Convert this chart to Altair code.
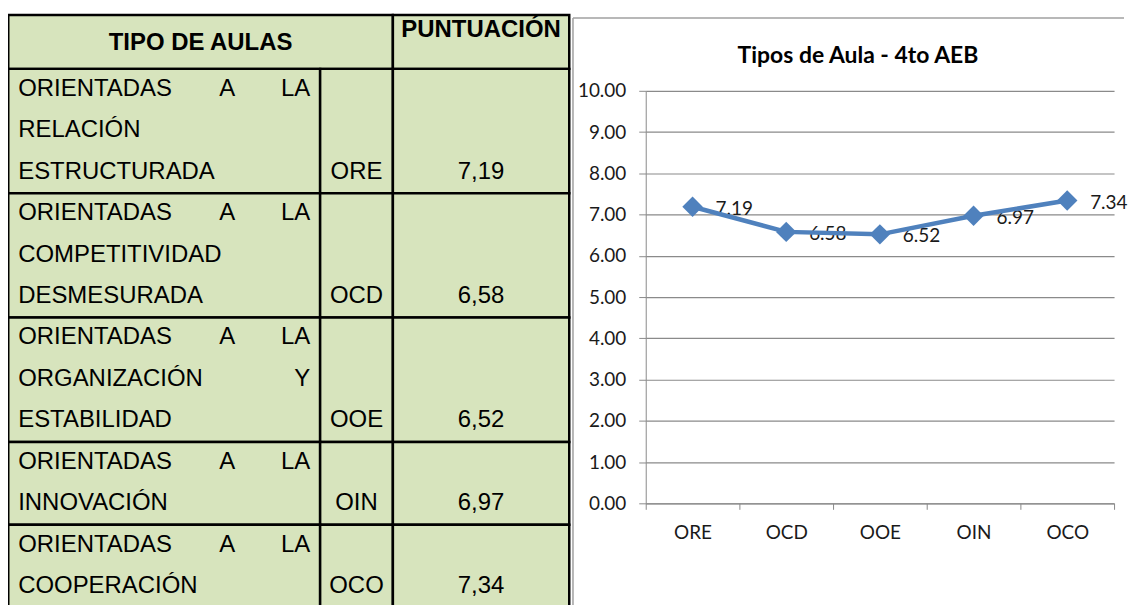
import altair as alt
import pandas as pd

# ---------------- data ----------------
codes = ["ORE", "OCD", "OOE", "OIN", "OCO"]
scores = [7.19, 6.58, 6.52, 6.97, 7.34]
score_text = ["7,19", "6,58", "6,52", "6,97", "7,34"]
type_lines = [
    ["ORIENTADAS A LA", "RELACIÓN", "ESTRUCTURADA"],
    ["ORIENTADAS A LA", "COMPETITIVIDAD", "DESMESURADA"],
    ["ORIENTADAS A LA", "ORGANIZACIÓN Y", "ESTABILIDAD"],
    ["ORIENTADAS A LA", "INNOVACIÓN"],
    ["ORIENTADAS A LA", "COOPERACIÓN"],
]
header_left = "TIPO DE AULAS"
header_right = "PUNTUACIÓN"
chart_title = "Tipos de Aula - 4to AEB"

# ---------------- table layout (pixels) ----------------
TW = 563
COL_EDGES = [0, 313, 386, 563]
HEADER_H = 54
LINE_H = 41.6
PAD = 1.25
TOP_OFF = -76          # table top relative to the chart's plot top
FONT_BODY = 24
FONT_HEAD = 24
GREEN = "#D7E4BD"
GRAY = "#8A8A8A"
BLUE = "#4F81BD"

ARIAL = {"A": 667, "B": 667, "C": 722, "D": 722, "E": 667, "F": 611, "G": 778,
         "H": 722, "I": 278, "J": 500, "K": 667, "L": 556, "M": 833, "N": 722,
         "O": 778, "Ó": 778, "P": 667, "Q": 778, "R": 722, "S": 667, "T": 611,
         "U": 722, "V": 667, "W": 944, "X": 667, "Y": 667, "Z": 611, " ": 278}


def text_w(s, size):
    return sum(ARIAL.get(c, 667) for c in s) / 1000 * size


cells = [dict(x=0, x2=COL_EDGES[2], y=0, y2=HEADER_H),
         dict(x=COL_EDGES[2], x2=COL_EDGES[3], y=0, y2=HEADER_H)]
heads = [dict(text=header_left, x=COL_EDGES[2] / 2, y=35),
         dict(text=header_right, x=(COL_EDGES[2] + COL_EDGES[3]) / 2, y=22)]
words = []
top = HEADER_H
L = COL_EDGES[0] + 10
R = COL_EDGES[1] - 10
for lines, code, val in zip(type_lines, codes, score_text):
    h = len(lines) * LINE_H
    for c in range(3):
        cells.append(dict(x=COL_EDGES[c], x2=COL_EDGES[c + 1], y=top, y2=top + h))
    for i, line in enumerate(lines):
        base = top + 27 + i * LINE_H
        ws = line.split()
        if i < len(lines) - 1 and len(ws) > 1:
            widths = [text_w(w, FONT_BODY) for w in ws]
            gap = (R - L - sum(widths)) / (len(ws) - 1)
            pos = L
            for k, (w, wd) in enumerate(zip(ws, widths)):
                if k == 0:
                    words.append(dict(text=w, x=L, y=base, align="left"))
                elif k == len(ws) - 1:
                    words.append(dict(text=w, x=R, y=base, align="right"))
                else:
                    words.append(dict(text=w, x=pos + wd / 2, y=base, align="center"))
                pos += wd + gap
        else:
            words.append(dict(text=line, x=L, y=base, align="left"))
    last = top + 27 + (len(lines) - 1) * LINE_H
    words.append(dict(text=code, x=(COL_EDGES[1] + COL_EDGES[2]) / 2, y=last, align="center"))
    words.append(dict(text=val, x=(COL_EDGES[2] + COL_EDGES[3]) / 2, y=last, align="center"))
    top += h
TOTAL_H = top

cells_df = pd.DataFrame(cells)
words_df = pd.DataFrame(words)
heads_df = pd.DataFrame(heads)

xs = alt.Scale(domain=[-PAD, TW + PAD], nice=False, zero=False)
ys = alt.Scale(domain=[0, TOTAL_H], range=[TOP_OFF, TOP_OFF + TOTAL_H],
               nice=False, zero=False)

rects = alt.Chart(cells_df).mark_rect(
    fill=GREEN, stroke="black", strokeWidth=2.5
).encode(
    x=alt.X("x:Q", scale=xs, axis=None), x2="x2:Q",
    y=alt.Y("y:Q", scale=ys, axis=None), y2="y2:Q",
)

text_layers = []
for a in ["left", "center", "right"]:
    text_layers.append(
        alt.Chart(words_df).transform_filter(alt.datum.align == a).mark_text(
            align=a, baseline="alphabetic", font="Liberation Sans",
            fontSize=FONT_BODY, color="black"
        ).encode(
            x=alt.X("x:Q", scale=xs, axis=None),
            y=alt.Y("y:Q", scale=ys, axis=None),
            text="text:N",
        )
    )

head_text = alt.Chart(heads_df).mark_text(
    align="center", baseline="alphabetic", font="Liberation Sans",
    fontSize=FONT_HEAD, fontWeight="bold", color="black"
).encode(
    x=alt.X("x:Q", scale=xs, axis=None),
    y=alt.Y("y:Q", scale=ys, axis=None),
    text="text:N",
)

table = alt.layer(rects, *text_layers, head_text).properties(
    width=TW + 2 * PAD, height=TOTAL_H + TOP_OFF
)

# ---------------- line chart ----------------
line_df = pd.DataFrame({"code": codes, "score": scores})

x_enc = alt.X(
    "code:N", sort=codes,
    scale=alt.Scale(type="band", paddingInner=0, paddingOuter=0),
    bandPosition=0.5,
    axis=alt.Axis(title=None, labelAngle=0, labelFont="Lato", labelFontSize=19,
                  labelColor="#1a1a1a", labelPadding=14, tickBand="extent",
                  tickSize=6, tickColor=GRAY, domainColor=GRAY, grid=False),
)
y_enc = alt.Y(
    "score:Q", scale=alt.Scale(domain=[0, 10], nice=False),
    axis=alt.Axis(title=None, tickCount=10, format=".2f", labelFont="Lato",
                  labelFontSize=19, labelColor="#1a1a1a", labelPadding=13,
                  tickSize=7, tickColor=GRAY, domainColor=GRAY, grid=True,
                  gridColor=GRAY, gridWidth=1.2),
)

base = alt.Chart(line_df).encode(x=x_enc, y=y_enc)

labels = base.mark_text(
    align="left", baseline="middle", dx=23, dy=2, font="Lato", fontSize=19,
    color="#1a1a1a"
).encode(text=alt.Text("score:Q", format=".2f"))
line = base.mark_line(color=BLUE, strokeWidth=4.5)
points = base.mark_point(shape="diamond", filled=True, size=420, color=BLUE, opacity=1)

frame_df = pd.DataFrame({"k": [0]})
frame_top = alt.Chart(frame_df).mark_rule(color="#A0A0A0", strokeWidth=1.5).encode(
    x=alt.value(-73), x2=alt.value(480), y=alt.value(-73)
)
frame_left = alt.Chart(frame_df).mark_rule(color="#A0A0A0", strokeWidth=1.5).encode(
    x=alt.value(-73), y=alt.value(-73), y2=alt.value(530)
)
frame_pad = alt.Chart(frame_df).mark_rule(opacity=0, strokeWidth=1).encode(
    x=alt.value(0), x2=alt.value(10), y=alt.value(-77)
)

right = alt.layer(frame_pad, frame_top, frame_left, labels, line, points).properties(
    width=470, height=414,
    title=alt.TitleParams(chart_title, font="Lato", fontSize=23, fontWeight="bold",
                          color="black", anchor="middle", dx=-22, offset=-54),
)

chart = alt.hconcat(table, right, spacing=1).configure_view(
    stroke=None
).properties(
    padding={"left": -1, "top": 4, "right": 0, "bottom": 0}
)

chart.save("out.html", embed_options={"renderer": "svg", "actions": False})
